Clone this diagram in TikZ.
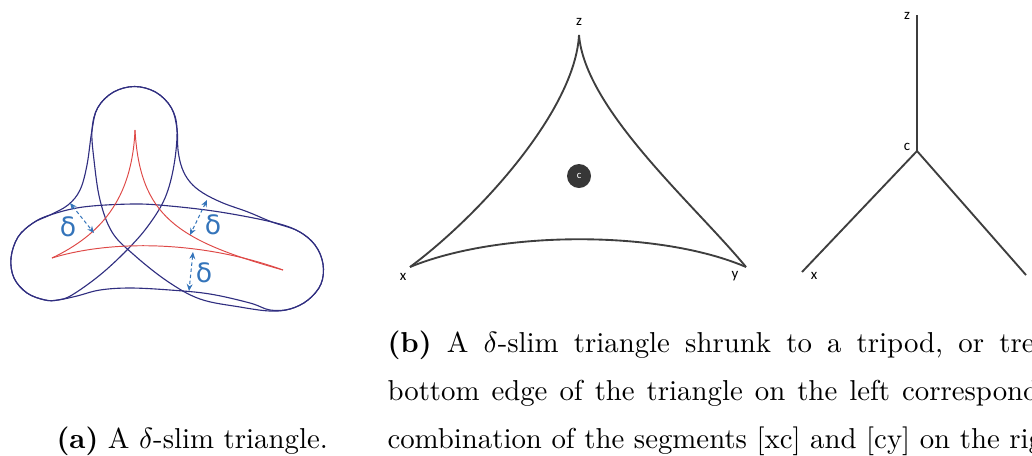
\documentclass[tikz,border=0pt]{standalone}
\usepackage{fontspec}
\newfontfamily\dvs{DejaVu Sans}
\newfontfamily\lblfont{Carlito}
\usetikzlibrary{arrows.meta}
\definecolor{blueline}{RGB}{48,46,128}
\definecolor{redline}{RGB}{222,72,70}
\definecolor{arrowblue}{RGB}{52,116,186}
\definecolor{gtri}{RGB}{62,62,62}
\definecolor{cfill}{RGB}{55,55,55}
\begin{document}
\begin{tikzpicture}[x=0.375pt,y=-0.375pt,
  bl/.style={draw=blueline,line width=0.42pt},
  rd/.style={draw=redline,line width=0.36pt},
  darr/.style={draw=arrowblue,line width=0.38pt,dash pattern=on 1.3pt off 1pt,
     {Stealth[length=2.6pt,width=2.2pt]}-{Stealth[length=2.6pt,width=2.2pt]}},
  dl/.style={text=arrowblue,font=\dvs\fontsize{10}{12}\selectfont,inner sep=0pt},
  triedge/.style={draw=gtri,line width=0.7pt},
  lbl/.style={font=\lblfont\fontsize{5.6}{7}\selectfont,inner sep=0pt,text=black},
  capline/.style={font=\fontsize{10.8}{13}\selectfont,inner sep=0pt,anchor=base west}]
\useasboundingbox (0,0) rectangle (1032,455);
\clip (0,0) rectangle (1032,455);

% ---------- (a) delta-slim triangle ----------
% sausage around left side
\draw[bl] plot[smooth cycle,tension=0.6] coordinates {
  (134.5,86.5) (155.75,92.2) (171.3,107.75) (177,129) (174,165) (165,198)
  (148,226) (127,250) (100,275) (72,295) (58,300) (45,300) (27,293) (14,278)
  (11,258) (18,237) (33,223) (50,215) (68,205) (80,190) (87,165) (92,130)
  (97.7,107.75) (113.25,92.2)};
% sausage around right side
\draw[bl] plot[smooth cycle,tension=0.6] coordinates {
  (134.5,86.5) (155.75,92.2) (171.3,107.75) (177,129) (178,150) (182,168)
  (190,182) (203,193) (223,203) (248,212) (272,222) (298,231) (315,245)
  (323,264) (321,284) (308,300) (290,309) (270,311) (240,307) (200,299)
  (167,281) (133,254) (112,232) (100,200) (94,160) (92,130) (97.7,107.75)
  (113.25,92.2)};
% sausage around bottom side
\draw[bl] plot[smooth cycle,tension=0.6] coordinates {
  (50,215) (83,207) (133,204) (170,206) (220,212) (272,222) (298,231)
  (315,245) (323,264) (321,284) (308,300) (290,309) (270,310) (250,303)
  (210,294) (170,290) (130,288) (100,290) (77,296) (58,300) (45,300)
  (27,293) (14,278) (11,258) (18,237) (33,223)};
% geodesic triangle
\coordinate (rT) at (135,130);
\coordinate (rL) at (52,258);
\coordinate (rR) at (283,270);
\draw[rd] (rT) .. controls (132,200) and (100,235) .. (rL);
\draw[rd] (rT) .. controls (140,215) and (175,240) .. (rR);
\draw[rd] (rL) .. controls (110,240) and (200,240) .. (rR);
% delta arrows
\coordinate (a1s) at (70,203);  \coordinate (a1e) at (94,233);
\coordinate (a2s) at (207,200); \coordinate (a2e) at (190,235);
\coordinate (a3s) at (193,252); \coordinate (a3e) at (189,291);
\draw[darr] (a1s) -- (a1e);
\draw[darr] (a2s) -- (a2e);
\draw[darr] (a3s) -- (a3e);
\node[dl] (d1) at (68,227) {δ};
\node[dl] (d2) at (213,225) {δ};
\node[dl] (d3) at (204,273) {δ};

% ---------- (b) left: concave triangle ----------
\coordinate (tx) at (410,267);
\coordinate (ty) at (746,267);
\coordinate (tz) at (579,35);
\draw[triedge] (tx) .. controls (480,215) and (575,110) .. (tz);
\draw[triedge] (tz) .. controls (585,110) and (695,205) .. (ty);
\draw[triedge] (tx) .. controls (500,230) and (660,230) .. (ty);
\node[circle,fill=cfill,minimum size=9pt,inner sep=0pt,
  text=white,font=\lblfont\fontsize{4}{5}\selectfont] (tc) at (579,176) {c};
\node[lbl,anchor=base] (lz) at (579,25) {z};
\node[lbl] (lx) at (403,277) {x};
\node[lbl] (ly) at (735,276) {y};

% ---------- (b) right: tripod ----------
\coordinate (pc) at (917,151);
\coordinate (pz) at (917,15);
\coordinate (px) at (802,272);
\coordinate (py) at (1026,275);
\draw[triedge] (pc) -- (pz);
\draw[triedge] (pc) -- (px);
\draw[triedge] (pc) -- (py);
\node[lbl] (qz) at (907,16) {z};
\node[lbl] (qc) at (907,147) {c};
\node[lbl] (qx) at (814,276) {x};

% ---------- captions ----------
\node[capline] (capa) at (56,448) {\textbf{(a)} A $\delta$-slim triangle.};
\node[capline] (capb1) at (387,352) {\spaceskip=5.7pt plus 0pt minus 0pt \textbf{(b)} A $\delta$-slim triangle shrunk to a tripod, or tree. The};
\node[capline] (capb2) at (387,400) {\spaceskip=4.5pt plus 0pt minus 0pt bottom edge of the triangle on the left corresponds to};
\node[capline] (capb3) at (387,448) {combination of the segments [xc] and [cy] on the right.};
\end{tikzpicture}
\end{document}
